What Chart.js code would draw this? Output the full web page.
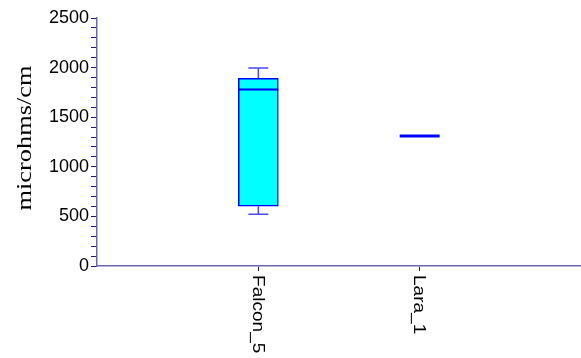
<!DOCTYPE html>
<html>
<head>
<meta charset="utf-8">
<script src="https://cdn.jsdelivr.net/npm/chart.js@4/dist/chart.umd.min.js"></script>
<style>
  html, body { margin: 0; padding: 0; background: #fff; }
  #wrap { width: 581px; height: 358px; }
</style>
</head>
<body>
<div id="wrap"><canvas id="boxChart" width="581" height="358"></canvas></div>
<script>
// box plot stats
const categories = ["Falcon_5", "Lara_1"];
const mins = [522, 1310];
const q1s = [602, 1310];
const medians = [1780, 1310];
const q3s = [1892, 1310];
const maxs = [1995, 1310];
const yTicks = [0, 500, 1000, 1500, 2000, 2500];
const yTitle = "microhms/cm";

const axisColor = "#6a6aaa";
const tickColor = "#1a1a80";
const boxBlue = "#0000ff";

// draw text along a rotated baseline, slightly stretched like the original
function stretchedText(ctx, text, x, y, angle, stretch) {
  ctx.save();
  ctx.translate(x, y);
  ctx.rotate(angle);
  ctx.scale(stretch, 1);
  ctx.fillText(text, 0, 0);
  ctx.restore();
}

// whiskers, medians and rotated labels, drawn through the chart scales
const boxExtras = {
  id: "boxExtras",
  afterDatasetsDraw(chart) {
    const { ctx, scales } = chart;
    const xs = scales.x;
    const ys = scales.y;
    ctx.save();
    categories.forEach((cat, i) => {
      const x = xs.getPixelForValue(i + 1);
      const flat = q1s[i] === q3s[i];
      ctx.strokeStyle = "#4a4af0";
      ctx.lineWidth = 1.5;
      if (maxs[i] > q3s[i]) {
        ctx.beginPath();
        ctx.moveTo(x, ys.getPixelForValue(q3s[i]));
        ctx.lineTo(x, ys.getPixelForValue(maxs[i]));
        ctx.moveTo(x - 10, ys.getPixelForValue(maxs[i]));
        ctx.lineTo(x + 10, ys.getPixelForValue(maxs[i]));
        ctx.stroke();
      }
      if (mins[i] < q1s[i]) {
        ctx.beginPath();
        ctx.moveTo(x, ys.getPixelForValue(q1s[i]));
        ctx.lineTo(x, ys.getPixelForValue(mins[i]));
        ctx.moveTo(x - 10, ys.getPixelForValue(mins[i]));
        ctx.lineTo(x + 10, ys.getPixelForValue(mins[i]));
        ctx.stroke();
      }
      // median
      ctx.strokeStyle = boxBlue;
      ctx.lineWidth = flat ? 3 : 2;
      ctx.beginPath();
      ctx.moveTo(x - 20, ys.getPixelForValue(medians[i]));
      ctx.lineTo(x + 20, ys.getPixelForValue(medians[i]));
      ctx.stroke();
    });
    ctx.restore();
  },
  afterDraw(chart) {
    const { ctx, scales, chartArea } = chart;
    const xs = scales.x;
    ctx.save();
    ctx.fillStyle = "#000";

    // category labels, reading top to bottom
    ctx.font = "17px 'Liberation Sans', Arial, sans-serif";
    ctx.textBaseline = "middle";
    ctx.textAlign = "left";
    categories.forEach((cat, i) => {
      const x = xs.getPixelForValue(i + 1);
      stretchedText(ctx, cat, x - 1, chartArea.bottom + 9, Math.PI / 2, 1.12);
    });

    // y axis title
    ctx.font = "22px 'Liberation Serif', 'Times New Roman', serif";
    ctx.textAlign = "center";
    const w = ctx.measureText(yTitle).width;
    const yMid = (chartArea.top + chartArea.bottom) / 2 - 4;
    stretchedText(ctx, yTitle, 25, yMid, -Math.PI / 2, 145 / w);
    ctx.restore();
  },
};

const ctx = document.getElementById("boxChart").getContext("2d");
new Chart(ctx, {
  type: "bar",
  data: {
    datasets: [
      {
        label: "box",
        data: categories.map((c, i) => ({ x: i + 1, y: [q1s[i], q3s[i]] })),
        backgroundColor: "#00ffff",
        borderColor: boxBlue,
        borderWidth: 1.5,
        borderSkipped: false,
        barThickness: 40,
      },
    ],
  },
  options: {
    responsive: false,
    animation: false,
    layout: { padding: { top: 18, right: 0, bottom: 0, left: 0 } },
    plugins: {
      legend: { display: false },
      tooltip: { enabled: false },
    },
    scales: {
      x: {
        type: "linear",
        min: 0,
        max: 3,
        offset: false,
        afterBuildTicks: (scale) => {
          scale.ticks = categories.map((c, i) => ({ value: i + 1 }));
        },
        afterFit: (scale) => {
          scale.height = 92;
        },
        ticks: { display: false },
        grid: {
          offset: false,
          drawOnChartArea: false,
          tickLength: 5,
          color: tickColor,
        },
        border: { color: axisColor, width: 1.5 },
      },
      y: {
        min: 0,
        max: 2500,
        afterBuildTicks: (scale) => {
          const t = [];
          for (let v = 0; v <= 2500; v += 100) t.push({ value: v });
          scale.ticks = t;
        },
        afterFit: (scale) => {
          scale.width = 97;
        },
        ticks: {
          autoSkip: false,
          color: "#000",
          padding: 2,
          font: { family: "'Liberation Sans', Arial, sans-serif", size: 18 },
          callback: (v) => (yTicks.includes(v) ? String(v) : ""),
        },
        grid: {
          drawOnChartArea: false,
          tickLength: 6,
          color: tickColor,
        },
        border: { color: axisColor, width: 1.5 },
      },
    },
  },
  plugins: [boxExtras],
});
</script>
</body>
</html>
